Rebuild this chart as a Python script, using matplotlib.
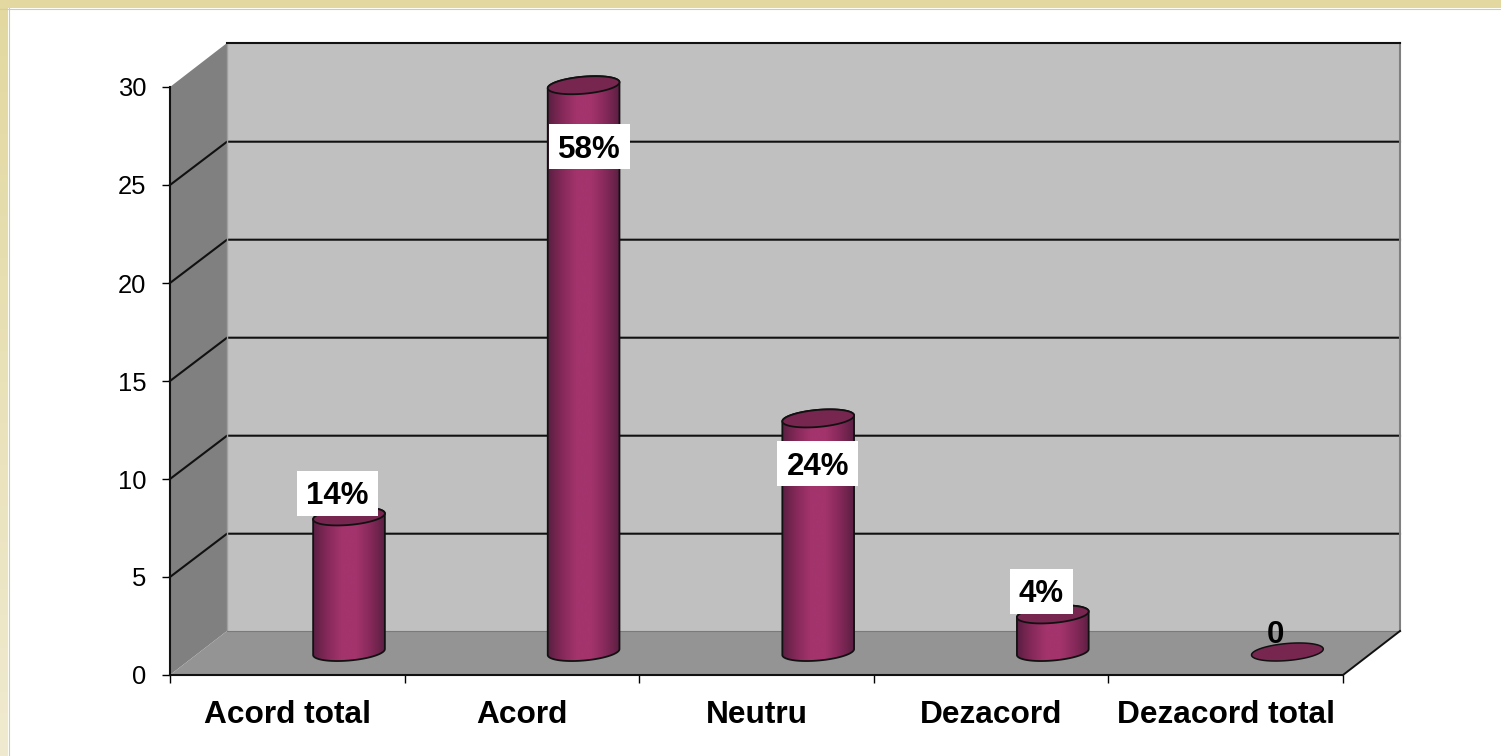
import numpy as np
import matplotlib
matplotlib.use("Agg")
import matplotlib.pyplot as plt
from matplotlib.colors import LinearSegmentedColormap
from matplotlib.lines import Line2D
from matplotlib.patches import Polygon, Rectangle

plt.rcParams['font.family'] = ['Liberation Sans', 'DejaVu Sans']

categories = ["Acord total", "Acord", "Neutru", "Dezacord", "Dezacord total"]
values = [7, 29, 12, 2, 0]
bar_labels = ["14%", "58%", "24%", "4%", "0"]
y_ticks = [0, 5, 10, 15, 20, 25, 30]

W, H = 1501, 756
AX_L, AX_R, AX_B, AX_T = 170, 1343, 675, 87
fig = plt.figure(figsize=(W / 100, H / 100), dpi=100, facecolor='white')

# beige frame: flat band on top, fading band on the left
left = fig.add_axes((0, 0, 8 / W, 1 - 8 / H))
left.axis('off')
c_top, c_bot = np.array([226, 216, 160]), np.array([240, 234, 208])
g = (c_bot + np.linspace(0, 1, 256).reshape(-1, 1, 1) * (c_top - c_bot)) / 255
left.imshow(g, aspect='auto', extent=(0, 1, 0, 1), origin='lower')
fig.add_artist(Rectangle((0, 1 - 8 / H), 1, 8 / H, transform=fig.transFigure, fc='#e2d8a0', ec='none'))
fig.add_artist(Line2D([0, 1], [1 - 8.5 / H] * 2, transform=fig.transFigure, color='#d8cd95', lw=0.8))
fig.add_artist(Line2D([8.5 / W] * 2, [0, 1 - 8 / H], transform=fig.transFigure, color='#d8cd95', lw=0.8))

ax = fig.add_axes((AX_L / W, 1 - AX_B / H, (AX_R - AX_L) / W, (AX_B - AX_T) / H))
ax.patch.set_visible(False)
n = len(categories)
ymax = y_ticks[-1]
px_x = (AX_R - AX_L) / n      # pixels per category
px_y = (AX_B - AX_T) / ymax   # pixels per value unit
DX, DY = 57 / px_x, 44 / px_y  # depth of the 3D box, in data units
NO = dict(clip_on=False)

# walls
ax.add_patch(Polygon([(0, 0), (DX, DY), (DX, ymax + DY), (0, ymax)], fc='#808080', ec='none', zorder=1, **NO))
ax.add_patch(Polygon([(DX, DY), (n + DX, DY), (n + DX, ymax + DY), (DX, ymax + DY)], fc='#c0c0c0', ec='none', zorder=1, **NO))
ax.add_patch(Polygon([(0, 0), (n, 0), (n + DX, DY), (DX, DY)], fc='#949494', ec='none', zorder=1, **NO))
# grid
GRID_DROP = 0.7 / px_y
for t in y_ticks[1:-1]:
    ax.plot([0, DX, n + DX], [t, t + DY - GRID_DROP, t + DY - GRID_DROP], color='#111111', lw=1.5, zorder=2, **NO)
ax.plot([DX, DX], [DY, ymax + DY], color='#a0a0a0', lw=1.0, zorder=2, **NO)
ax.plot([n + DX, n + DX], [DY, ymax + DY], color='#808080', lw=1.5, zorder=2, **NO)
ax.plot([DX, n + DX], [DY, DY], color='#7a7a7a', lw=0.8, zorder=2, **NO)
ax.plot([DX, n + DX], [ymax + DY] * 2, color='#111111', lw=1.5, zorder=2, **NO)
ax.plot([n, n + DX], [0, DY], color='#111111', lw=1.4, zorder=2, **NO)

# bars as tilted cylinders
cmap = LinearSegmentedColormap.from_list('cyl', ['#5a1f42', '#86295a', '#a3346c', '#a3346c', '#86295a', '#5a1f42'])
grad = np.linspace(0, 1, 256).reshape(1, -1)
A, B, TILT = 36, 8.5, np.radians(5)
BAR_SHIFT = 61.7   # px from category centre
BASE_Y = 23.0      # px above the zero level
TOP_DROP = 1.6     # px


def ellipse(xc, yc, t):
    """Ellipse points in data units; centre xc, yc in data units."""
    ex = A * np.cos(t) * np.cos(TILT) - B * np.sin(t) * np.sin(TILT)
    ey = A * np.cos(t) * np.sin(TILT) + B * np.sin(t) * np.cos(TILT)
    return np.column_stack([xc + ex / px_x, yc + ey / px_y])


full = np.linspace(0, 2 * np.pi, 120)
low = np.linspace(np.pi, 2 * np.pi, 60)
up = np.linspace(0, np.pi, 60)
base = BASE_Y / px_y
half = A / px_x
drop = TOP_DROP / px_y
for i, v in enumerate(values):
    xc = i + 0.5 + BAR_SHIFT / px_x
    if v > 0:
        ytop = base + v - drop
        body = np.vstack([ellipse(xc, base, low), ellipse(xc, ytop, up)])
        poly = Polygon(body, closed=True, fc='none', ec='#111111', lw=1.3, zorder=5, **NO)
        ax.add_patch(poly)
        im = ax.imshow(grad, cmap=cmap, aspect='auto', zorder=4,
                       extent=(xc - half, xc + half, base - 1, ytop + 1))
        im.set_clip_box(fig.bbox)
        im.set_clip_path(poly)
        ax.add_patch(Polygon(ellipse(xc, ytop, full), fc='#77264f', ec='#111111', lw=1.3, zorder=6, **NO))
    else:
        ax.add_patch(Polygon(ellipse(xc, base, full), fc='#77264f', ec='#111111', lw=1.1, zorder=6, **NO))

# value labels: pixel offset of the label box from each bar top centre
label_offsets = [(-11.5, 21.3), (5.6, -63), (-0.5, -46.7), (-11.3, 21.8), (-12, 20)]
TEXT_DROP = 3.0   # px, text sits a little low in its box
BOX_H, BOX_PAD = 45, 9
renderer = fig.canvas.get_renderer()
for i, (v, s, off) in enumerate(zip(values, bar_labels, label_offsets)):
    xc = i + 0.5 + BAR_SHIFT / px_x
    txt = ax.annotate(s, (xc, base + v), xytext=(off[0] * .72, (off[1] - TEXT_DROP) * .72),
                      textcoords='offset points', ha='center', va='center', fontsize=22.5,
                      fontweight='bold', color='black', zorder=8, annotation_clip=False)
    if v > 0:
        w = txt.get_window_extent(renderer).width + 2 * BOX_PAD
        ax.add_patch(Rectangle((xc + (off[0] - w / 2) / px_x, base + v + (off[1] - BOX_H / 2) / px_y),
                               w / px_x, BOX_H / px_y, fc='white', ec='none', zorder=7, **NO))

ax.set_xlim(0, n)
ax.set_ylim(0, ymax)
ax.set_yticks(y_ticks)
ax.set_xticks(np.arange(n + 1))
ax.set_xticks(np.arange(n) + 0.5, minor=True)
ax.set_xticklabels([])
ax.set_xticklabels(categories, minor=True, fontsize=22.8, fontweight='bold')
ax.tick_params(axis='x', which='major', length=6, width=1, color='black')
ax.tick_params(axis='x', which='minor', length=0, pad=18)
ax.tick_params(axis='y', length=6, width=1, color='black', labelsize=18.4, pad=11)
for s in ('top', 'right'):
    ax.spines[s].set_visible(False)
for s in ('left', 'bottom'):
    ax.spines[s].set_linewidth(1.5)
    ax.spines[s].set_color('#111111')
    ax.spines[s].set_zorder(3)

fig.savefig('out.png', dpi=100)
